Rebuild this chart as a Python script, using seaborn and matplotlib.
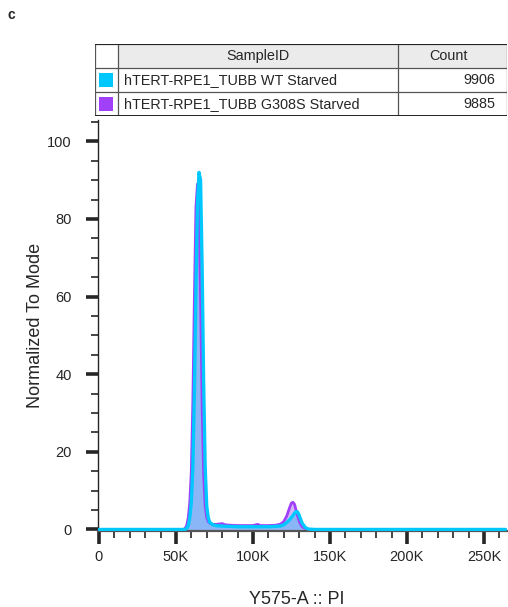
# Cell cycle histogram (PI staining), WT vs G308S starved
import matplotlib
matplotlib.use("Agg")
import matplotlib.pyplot as plt
from matplotlib.patches import Rectangle
from matplotlib.ticker import MultipleLocator, FuncFormatter
import seaborn as sns
import pandas as pd

# -------------------------------
# data
# -------------------------------
pi_k = [0, 50, 55, 56, 57, 58, 59, 60, 61, 62, 63, 64, 65, 66, 67, 68, 69, 70,
        71, 72, 74, 76, 78, 80, 82, 85, 90, 95, 100, 103, 105, 110, 115, 118,
        120, 122, 124, 125, 126, 127, 128, 129, 130, 131, 132, 134, 136, 140, 264]

wt_mode = [0, 0, 0, 0, 0.3, 1, 3, 7, 16, 35, 62, 84, 92, 90, 68, 38, 16, 6,
           3, 1.8, 1.2, 1.0, 0.9, 0.9, 0.8, 0.8, 0.7, 0.7, 0.7, 0.7, 0.7, 0.7, 0.8, 0.9,
           1.2, 1.8, 2.6, 3.1, 3.6, 4.2, 4.6, 4.5, 3.7, 2.6, 1.6, 0.5, 0.1, 0, 0]

g308s_mode = [0, 0, 0, 0.3, 1, 3, 7, 15, 33, 60, 83, 89, 82, 60, 32, 14, 6, 3,
              2, 1.6, 1.3, 1.3, 1.4, 1.5, 1.2, 1.1, 1.0, 1.0, 1.0, 1.3, 1.0, 1.0, 1.1, 1.4,
              2.0, 3.5, 5.8, 6.8, 7.0, 6.5, 5.0, 3.5, 2.2, 1.3, 0.7, 0.2, 0, 0, 0]

sample_ids = ["hTERT-RPE1_TUBB WT Starved", "hTERT-RPE1_TUBB G308S Starved"]
counts = [9906, 9885]

line_colors = ["#00c8ff", "#a040f8"]
fill_colors = ["#8ab6f7", "#d7b6f7"]

df = pd.DataFrame({"x": [v * 1000 for v in pi_k] * 2,
                   "y": wt_mode + g308s_mode,
                   "sample": [sample_ids[0]] * len(pi_k) + [sample_ids[1]] * len(pi_k)})

# -------------------------------
# style
# -------------------------------
sns.set_style("ticks")
plt.rcParams["font.family"] = ["Liberation Sans", "DejaVu Sans"]

fig = plt.figure(figsize=(5.08, 6.07), dpi=100)
ax = fig.add_axes([98 / 508, 1 - 531 / 607, 409 / 508, 411 / 607])

# purple first, cyan on top
g = df[df["sample"] == sample_ids[1]]
ax.fill_between(g["x"], g["y"], color=fill_colors[1], lw=0, zorder=1)
w = df[df["sample"] == sample_ids[0]]
ax.fill_between(w["x"], w["y"], color=fill_colors[0], lw=0, zorder=2)
sns.lineplot(data=g, x="x", y="y", color=line_colors[1], lw=2, ax=ax, zorder=2.5)
sns.lineplot(data=w, x="x", y="y", color=line_colors[0], lw=2.4, ax=ax, zorder=3)

ax.set_xlim(-600, 265000)
ax.set_ylim(-0.4, 105.5)

ax.xaxis.set_major_locator(MultipleLocator(50000))
ax.xaxis.set_minor_locator(MultipleLocator(10000))
ax.yaxis.set_major_locator(MultipleLocator(20))
ax.yaxis.set_minor_locator(MultipleLocator(5))
ax.xaxis.set_major_formatter(FuncFormatter(lambda v, p: "0" if v == 0 else f"{int(v / 1000)}K"))

ax.tick_params(axis="both", which="major", length=9, width=2.6, labelsize=10.5)
ax.tick_params(axis="both", which="minor", length=5, width=1.2)
ax.tick_params(axis="x", which="major", pad=5)
ax.tick_params(axis="y", which="major", pad=10)

for s in ["top", "right"]:
    ax.spines[s].set_visible(False)
ax.spines["left"].set_linewidth(1.0)
ax.spines["bottom"].set_linewidth(1.6)
ax.spines["bottom"].set_color("#555555")

ax.set_xlabel("Y575-A :: PI", fontsize=13)
ax.xaxis.set_label_coords(199 / 409, -60 / 411)
ax.set_ylabel("Normalized To Mode", fontsize=13)
ax.yaxis.set_label_coords(-54 / 409, 0.5)

# -------------------------------
# legend table
# -------------------------------
tab = fig.add_axes([95 / 508, 1 - 116 / 607, 412 / 508, 72 / 607])
tab.set_xlim(95, 507)
tab.set_ylim(116, 44)
tab.axis("off")

cols = [95, 118, 398, 507]
rows = [44, 68, 92, 116]
tab.add_patch(Rectangle((118, 44), 389, 24, facecolor="#ebebeb", edgecolor="none"))
for x in cols:
    tab.plot([x, x], [rows[0], rows[-1]], color="#555555", lw=0.9)
for y in rows:
    tab.plot([cols[0], cols[-1]], [y, y], color="#555555", lw=0.9)
tab.plot([cols[0], cols[-1]], [44, 44], color="#222222", lw=1.4)
tab.plot([cols[0], cols[-1]], [116, 116], color="#222222", lw=1.4)

tab.text(258, 56, "SampleID", ha="center", va="center", fontsize=10.4)
tab.text(449, 56, "Count", ha="center", va="center", fontsize=10.4)
for i, (name, n) in enumerate(zip(sample_ids, counts)):
    yc = rows[i + 1] + 12
    tab.add_patch(Rectangle((99, yc - 7), 14, 14, facecolor=line_colors[i], edgecolor="none"))
    tab.text(124, yc, name, ha="left", va="center", fontsize=10.4)
    tab.text(495, yc, str(n), ha="right", va="center", fontsize=10.4)

fig.text(8 / 508, 1 - 15 / 607, "c", fontsize=10, fontweight="bold", ha="left", va="center")

fig.savefig("out.png", dpi=100)
plt.close()
